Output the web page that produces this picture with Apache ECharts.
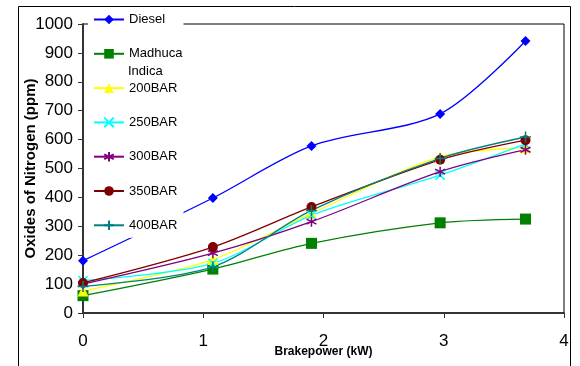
<!DOCTYPE html>
<html>
<head>
<meta charset="utf-8">
<script src="https://cdn.jsdelivr.net/npm/echarts@6/dist/echarts.min.js"></script>
<style>
  html, body { margin: 0; padding: 0; background: #fff; }
  #chart { width: 580px; height: 366px; }
</style>
</head>
<body>
<div id="chart"></div>
<script>
// brake power (kW) at each load step
var brakePower = [0, 1.08, 1.9, 2.97, 3.68];

// NOx (ppm)
var diesel = [181, 398, 578, 689, 941];
var madhuca = [60, 152, 241, 312, 325];
var bar200 = [76, 185, 345, 540, 572];
var bar250 = [112, 172, 338, 477, 585];
var bar300 = [100, 207, 316, 489, 565];
var bar350 = [104, 228, 367, 530, 598];
var bar400 = [92, 160, 355, 535, 609];

var yTicks = [0, 1000, 100];

function pairs(ys) {
  return brakePower.map(function (x, i) { return [x, ys[i]]; });
}

var crossPath = 'path://M0,0L10,10M10,0L0,10';
var starPath = 'path://M5,0L5,10M0,2.5L10,7.5M10,2.5L0,7.5';
var plusPath = 'path://M5,0L5,10M0,5L10,5';

function mkSeries(name, ys, color, symbol, size, stroke) {
  return {
    name: name,
    type: 'line',
    data: pairs(ys),
    smooth: 0.3,
    symbol: symbol,
    symbolSize: size,
    lineStyle: { color: color, width: 1.3 },
    itemStyle: stroke
      ? { color: color, borderColor: color, borderWidth: 1.5 }
      : { color: color },
    emphasis: { disabled: true }
  };
}

var chart = echarts.init(document.getElementById('chart'));
chart.setOption({
  animation: false,
  backgroundColor: '#fff',
  grid: {
    left: 83, top: 24, right: 16, bottom: 53,
    outerBoundsMode: 'none', containLabel: false,
    show: true, borderColor: '#000', borderWidth: 1
  },
  legend: {
    orient: 'vertical',
    left: 88, top: 8,
    padding: [5, 1, 6, 5],
    backgroundColor: '#fff',
    itemWidth: 30, itemHeight: 12,
    itemGap: 21.3,
    textStyle: { fontFamily: 'Liberation Sans, Arial', fontSize: 13, color: '#000' },
    formatter: function (n) { return n === 'Madhuca Indica' ? 'Madhuca' : n; },
    data: ['Diesel', 'Madhuca Indica', '200BAR', '250BAR', '300BAR', '350BAR', '400BAR']
  },
  graphic: [
    {
      type: 'rect', silent: true, z: 10,
      shape: { x: 18.5, y: 6.5, width: 552, height: 370 },
      style: { fill: 'none', stroke: '#000', lineWidth: 1 }
    },
    {
      type: 'text', left: 128, top: 65, z: 10,
      style: { text: 'Indica', font: '13px Liberation Sans, Arial', fill: '#000' }
    }
  ],
  xAxis: {
    type: 'value', min: 0, max: 4, interval: 1,
    name: 'Brakepower (kW)', nameLocation: 'middle', nameGap: 33,
    nameMoveOverlap: false,
    nameTextStyle: { fontFamily: 'Liberation Sans, Arial', fontWeight: 'bold', fontSize: 12, color: '#000' },
    axisLine: { lineStyle: { color: '#333', width: 2 } },
    axisTick: { show: true, length: 5, lineStyle: { color: '#333' } },
    axisLabel: { margin: 20, fontFamily: 'Liberation Sans, Arial', fontSize: 17, color: '#000' },
    splitLine: { show: false }
  },
  yAxis: {
    type: 'value', min: yTicks[0], max: yTicks[1], interval: yTicks[2],
    name: 'Oxides of Nitrogen (ppm)', nameLocation: 'middle', nameGap: 45,
    nameMoveOverlap: false,
    nameTextStyle: { fontFamily: 'Liberation Sans, Arial', fontWeight: 'bold', fontSize: 15, color: '#000' },
    axisLine: { show: true, lineStyle: { color: '#333', width: 2 } },
    axisTick: { show: true, length: 5, lineStyle: { color: '#333' } },
    axisLabel: {
      margin: 10, fontFamily: 'Liberation Sans, Arial', fontSize: 17, color: '#000',
      formatter: function (v) { return String(v); }
    },
    splitLine: { show: false }
  },
  series: [
    mkSeries('Diesel', diesel, '#0000ff', 'diamond', 10, false),
    mkSeries('Madhuca Indica', madhuca, '#008000', 'rect', 11, false),
    mkSeries('200BAR', bar200, '#ffff00', 'triangle', 11, false),
    mkSeries('250BAR', bar250, '#00ffff', crossPath, 9, true),
    mkSeries('300BAR', bar300, '#800080', starPath, 10, true),
    mkSeries('350BAR', bar350, '#800000', 'circle', 10, false),
    mkSeries('400BAR', bar400, '#008080', plusPath, 11, true)
  ]
});
</script>
</body>
</html>
